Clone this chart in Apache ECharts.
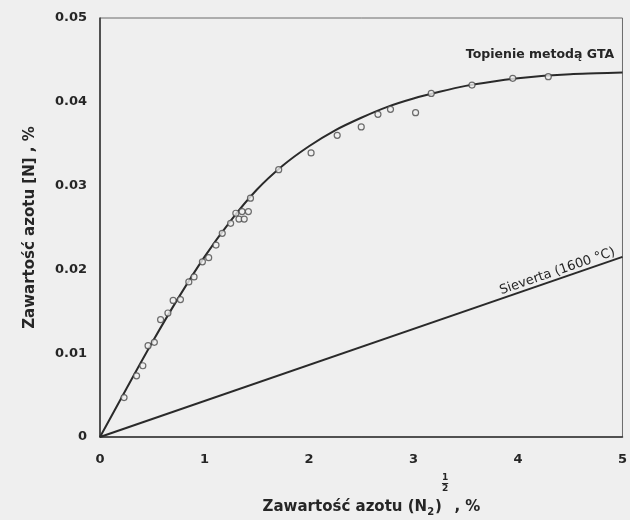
<!DOCTYPE html>
<html>
<head>
<meta charset="utf-8">
<script src="https://cdn.jsdelivr.net/npm/echarts@6/dist/echarts.min.js"></script>
<style>
  html, body { margin: 0; padding: 0; background: #efefef; }
  #chart { width: 630px; height: 520px; }
</style>
</head>
<body>
<div id="chart"></div>
<script>
// Fitted curve for GTA melting (sqrt of N2 content vs dissolved nitrogen)
const curveX = [0, 0.25, 0.5, 0.75, 1, 1.25, 1.5, 1.75, 2, 2.25, 2.5, 2.75, 3, 3.25, 3.5, 3.75, 4, 4.25, 4.5, 4.75, 5];
const curveY = [0, 0.0057, 0.0113, 0.0166, 0.0215, 0.0258, 0.0295, 0.0324, 0.0347, 0.0366, 0.0381, 0.0394, 0.0404, 0.0412, 0.0419, 0.0424, 0.0428, 0.0431, 0.0433, 0.0434, 0.0435];

// Measured points
const ptsX = [0.23, 0.35, 0.41, 0.46, 0.52, 0.58, 0.65, 0.70, 0.77, 0.85, 0.90, 0.98, 1.04, 1.11, 1.17, 1.25, 1.30, 1.33, 1.36, 1.38, 1.42, 1.44, 1.71, 2.02, 2.27, 2.50, 2.66, 2.78, 3.02, 3.17, 3.56, 3.95, 4.29];
const ptsY = [0.0047, 0.0073, 0.0085, 0.0109, 0.0113, 0.0140, 0.0148, 0.0163, 0.0164, 0.0185, 0.0191, 0.0209, 0.0214, 0.0229, 0.0243, 0.0255, 0.0267, 0.0260, 0.0269, 0.0260, 0.0269, 0.0285, 0.0319, 0.0339, 0.0360, 0.0370, 0.0385, 0.0391, 0.0387, 0.0410, 0.0420, 0.0428, 0.0430];

// Sieverts' law line at 1600 °C
const sievX = [0, 5];
const sievY = [0, 0.0215];

const xTicks = [0, 1, 2, 3, 4, 5];
const yTicks = [0, 0.01, 0.02, 0.03, 0.04, 0.05];

const labelGTA = 'Topienie metodą GTA';
const labelSiev = 'Sieverta (1600 °C)';
const yName = 'Zawartość azotu [N] , %';

const FONT = '"DejaVu Sans", "Liberation Sans", Arial, sans-serif';
const INK = '#262626';

const zip = (xs, ys) => xs.map((x, i) => [x, ys[i]]);

const chart = echarts.init(document.getElementById('chart'), null, { renderer: 'canvas' });

chart.setOption({
  backgroundColor: '#efefef',
  animation: false,
  grid: {
    left: 100, top: 18, width: 526, height: 419,
    show: true, borderColor: '#6a6a6a', borderWidth: 1, backgroundColor: 'transparent'
  },
  xAxis: {
    type: 'value', min: 0, max: 5, interval: 1,
    axisLine: { lineStyle: { color: '#333', width: 1.5 } },
    axisTick: { show: false },
    splitLine: { show: false },
    axisLabel: {
      margin: 16, color: INK, fontFamily: FONT, fontSize: 13, fontWeight: 'bold',
      formatter: v => xTicks.includes(v) ? String(v) : ''
    }
  },
  yAxis: {
    type: 'value', min: 0, max: 0.05, interval: 0.01,
    name: yName, nameLocation: 'middle', nameGap: 62, nameRotate: 90,
    nameTextStyle: { color: INK, fontFamily: FONT, fontSize: 15, fontWeight: 'bold' },
    axisLine: { lineStyle: { color: '#333', width: 1.5 } },
    axisTick: { show: false },
    splitLine: { show: false },
    axisLabel: {
      margin: 13, color: INK, fontFamily: FONT, fontSize: 13, fontWeight: 'bold',
      formatter: v => {
        const t = yTicks.find(k => Math.abs(k - v) < 1e-9);
        return t === undefined ? '' : (t === 0 ? '0' : t.toFixed(2));
      }
    }
  },
  series: [
    {
      type: 'line', data: zip(sievX, sievY), symbol: 'none',
      lineStyle: { color: '#2a2a2a', width: 2 }, z: 2
    },
    {
      type: 'line', data: zip(curveX, curveY), symbol: 'none', smooth: 0.3,
      lineStyle: { color: '#2a2a2a', width: 2 }, z: 2
    },
    {
      type: 'scatter', data: zip(ptsX, ptsY), symbol: 'circle', symbolSize: 6,
      itemStyle: { color: '#f0f0f0', borderColor: '#4a4a4a', borderWidth: 1.2 }, z: 3
    }
  ]
});

// Text annotations placed from the axes' own scale
const ctx = document.createElement('canvas').getContext('2d');
const measure = (txt, font) => { ctx.font = font; return ctx.measureText(txt).width; };

const toPx = p => chart.convertToPixel({ gridIndex: 0 }, p);

const gtaPos = toPx([4.92, 0.0435]);
const s0 = toPx([sievX[0], sievY[0]]);
const s1 = toPx([sievX[1], sievY[1]]);
const angle = Math.atan2(s0[1] - s1[1], s1[0] - s0[0]);
const sievAt = 3.85;
const sievPos = toPx([sievAt, sievY[1] / sievX[1] * sievAt]);

// x-axis title with subscript and stacked 1/2 exponent
const mainFont = 'bold 15px ' + FONT;
const subFont = 'bold 10px ' + FONT;
const fracFont = 'bold 9px ' + FONT;
const nameY = 507;
const partA = 'Zawartość azotu (N';
const partB = ')';
const partC = ' , %';
const wA = measure(partA, mainFont);
const wSub = measure('2', subFont);
const wB = measure(partB, mainFont);
const wFrac = measure('1', fracFont) + 2;
const wC = measure(partC, mainFont);
const total = wA + wSub + 1 + wB + wFrac + wC;
const startX = 372 - total / 2;
const xSub = startX + wA;
const xB = xSub + wSub + 1;
const xFrac = xB + wB - 1;
const xC = xFrac + wFrac;

const txt = (text, x, y, font, align, valign, extra) => Object.assign({
  type: 'text', x, y, z: 10,
  style: { text, font, fill: INK, textAlign: align, textVerticalAlign: valign }
}, extra || {});

chart.setOption({
  graphic: [
    txt(labelGTA, gtaPos[0], gtaPos[1] - 11, 'bold 12.5px ' + FONT, 'right', 'bottom'),
    txt(labelSiev, sievPos[0], sievPos[1] - 1, '13px ' + FONT, 'left', 'bottom', { rotation: angle }),
    txt(partA, startX, nameY, mainFont, 'left', 'middle'),
    txt('2', xSub, nameY + 5, subFont, 'left', 'middle'),
    txt(partB, xB, nameY, mainFont, 'left', 'middle'),
    txt('1', xFrac + wFrac / 2, nameY - 29, fracFont, 'center', 'middle'),
    { type: 'line', z: 10, shape: { x1: xFrac + 1, y1: nameY - 23.5, x2: xFrac + wFrac - 1, y2: nameY - 23.5 }, style: { stroke: INK, lineWidth: 1 } },
    txt('2', xFrac + wFrac / 2, nameY - 18, fracFont, 'center', 'middle'),
    txt(partC, xC, nameY, mainFont, 'left', 'middle')
  ]
});
</script>
</body>
</html>
